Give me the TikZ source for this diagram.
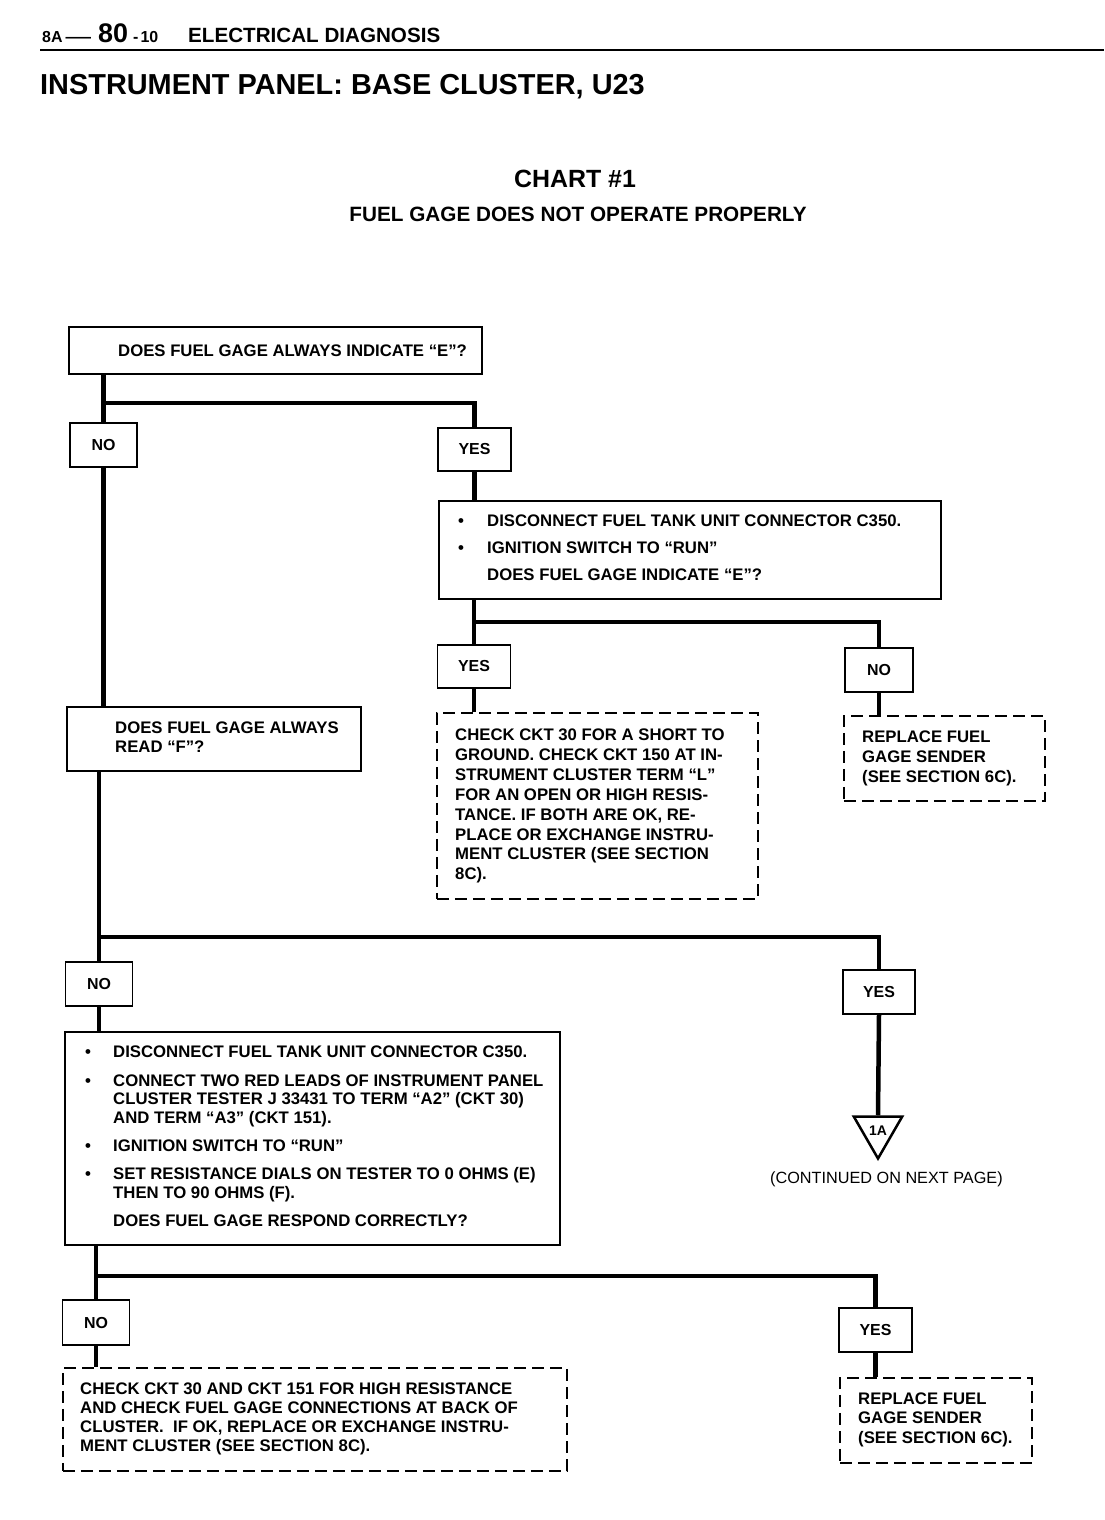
\documentclass[tikz,border=0pt]{standalone}
\usepackage{fontspec}
\usepackage{graphicx}
\setmainfont{Liberation Sans}
\usetikzlibrary{shapes.geometric}
\begin{document}
\begin{tikzpicture}[x=1bp,y=-1bp,
  box/.style={draw, line width=1.8bp, rectangle, inner sep=0pt, anchor=north west},
  dbox/.style={box, dash pattern=on 12bp off 6bp},
  yn/.style={draw, line width=1.8bp, rectangle, inner sep=0pt, font=\fontsize{16}{19}\selectfont\bfseries},
  conn/.style={line width=4.5bp},
  txt/.style={inner sep=0pt, anchor=west, align=left},
  body/.style={font=\fontsize{16.8}{#1}\selectfont\bfseries},
  body/.default=19,
]
\path[fill=white, use as bounding box] (0,0) rectangle (1104,1520);

% ---------- header ----------
\node[inner sep=0pt, anchor=base west, font=\fontsize{16}{16}\selectfont\bfseries] (h1) at (42,43) {8A\hspace{3bp}\scalebox{1.6}[1]{—}};
\node[inner sep=0pt, anchor=base west, font=\fontsize{27}{27}\selectfont\bfseries] (h2) at (98,43) {80};
\node[inner sep=0pt, anchor=base west, font=\fontsize{16}{16}\selectfont\bfseries] (h3) at (133,43) {-\kern2bp 10};
\node[inner sep=0pt, anchor=base west, font=\fontsize{20.7}{20.7}\selectfont\bfseries] (h4) at (188,43) {ELECTRICAL DIAGNOSIS};
\coordinate (r1) at (40,50);
\coordinate (r2) at (1104,50);
\draw[line width=2bp] (r1) -- (r2);
\node[inner sep=0pt, anchor=base west, font=\fontsize{29}{29}\selectfont\bfseries] (ttl) at (40,95) {INSTRUMENT PANEL: BASE CLUSTER, U23};
\node[inner sep=0pt, anchor=base, font=\fontsize{25}{25}\selectfont\bfseries] (chart) at (575,187) {CHART \#1};
\node[inner sep=0pt, anchor=base, font=\fontsize{20.8}{20.8}\selectfont\bfseries] (sub) at (578,221) {FUEL GAGE DOES NOT OPERATE PROPERLY};

% ---------- boxes ----------
\node[box, minimum width=413bp, minimum height=47bp] (q1) at (68,326) {};
\node[txt, body] (q1t) at (118,351) {DOES FUEL GAGE ALWAYS INDICATE ``E''?};

\node[yn, minimum width=67bp, minimum height=44bp] (n1) at (103.5,445) {NO};
\node[yn, minimum width=73bp, minimum height=43bp] (y1) at (474.5,449.5) {YES};

\node[box, minimum width=502bp, minimum height=98bp] (q2) at (438,500) {};
\node[txt, body=27] (q2t) at (458,548) {\makebox[29bp][l]{\textbullet}DISCONNECT FUEL TANK UNIT CONNECTOR C350.\\
\makebox[29bp][l]{\textbullet}IGNITION SWITCH TO ``RUN''\\
\hspace*{29bp}DOES FUEL GAGE INDICATE ``E''?};

\node[yn, minimum width=73bp, minimum height=43bp] (y2) at (474,666.5) {YES};
\node[yn, minimum width=68bp, minimum height=44bp] (n2) at (879,670) {NO};

\node[dbox, minimum width=321bp, minimum height=186bp] (dA) at (436,712) {};
\node[txt, body=20] (dAt) at (455,806) {CHECK CKT 30 FOR A SHORT TO\\
GROUND. CHECK CKT 150 AT IN-\\
STRUMENT CLUSTER TERM ``L''\\
FOR AN OPEN OR HIGH RESIS-\\
TANCE. IF BOTH ARE OK, RE-\\
PLACE OR EXCHANGE INSTRU-\\
MENT CLUSTER (SEE SECTION\\
8C).};

\node[dbox, minimum width=201bp, minimum height=85bp] (dB) at (843,715) {};
\node[txt, body=20] (dBt) at (862,758) {REPLACE FUEL\\
GAGE SENDER\\
(SEE SECTION 6C).};

\node[box, minimum width=294bp, minimum height=64bp] (q3) at (66,706) {};
\node[txt, body=19] (q3t) at (115,737.5) {DOES FUEL GAGE ALWAYS\\
READ ``F''?};

\node[yn, minimum width=67bp, minimum height=44bp] (n3) at (99,984) {NO};
\node[yn, minimum width=72bp, minimum height=44bp] (y3) at (879,992) {YES};

\node[draw, line width=2.5bp, regular polygon, regular polygon sides=3, shape border rotate=180,
      minimum size=56bp, inner sep=0pt, font=\fontsize{14}{14}\selectfont\bfseries] (t1) at (878,1130.5) {1A};
\node[inner sep=0pt, anchor=west, font=\fontsize{16.3}{19}\selectfont] (cont) at (770,1179) {(CONTINUED ON NEXT PAGE)};

\node[box, minimum width=495bp, minimum height=213bp] (q4) at (64,1031) {};
\node[txt, body=18.5] (q4t) at (85,1136.5) {\makebox[28bp][l]{\textbullet}DISCONNECT FUEL TANK UNIT CONNECTOR C350.\\[10bp]
\makebox[28bp][l]{\textbullet}CONNECT TWO RED LEADS OF INSTRUMENT PANEL\\
\hspace*{28bp}CLUSTER TESTER J 33431 TO TERM ``A2'' (CKT 30)\\
\hspace*{28bp}AND TERM ``A3'' (CKT 151).\\[10bp]
\makebox[28bp][l]{\textbullet}IGNITION SWITCH TO ``RUN''\\[10bp]
\makebox[28bp][l]{\textbullet}SET RESISTANCE DIALS ON TESTER TO 0 OHMS (E)\\
\hspace*{28bp}THEN TO 90 OHMS (F).\\[10bp]
\hspace*{28bp}DOES FUEL GAGE RESPOND CORRECTLY?};

\node[yn, minimum width=67bp, minimum height=45bp] (n4) at (96,1322.5) {NO};
\node[yn, minimum width=73bp, minimum height=44bp] (y4) at (875.5,1330) {YES};

\node[dbox, minimum width=504bp, minimum height=103bp] (dC) at (62,1367) {};
\node[txt, body=19] (dCt) at (80,1418.5) {CHECK CKT 30 AND CKT 151 FOR HIGH RESISTANCE\\
AND CHECK FUEL GAGE CONNECTIONS AT BACK OF\\
CLUSTER.\ \ IF OK, REPLACE OR EXCHANGE INSTRU-\\
MENT CLUSTER (SEE SECTION 8C).};

\node[dbox, minimum width=192bp, minimum height=85bp] (dD) at (839,1377) {};
\node[txt, body=19.5] (dDt) at (858,1419.5) {REPLACE FUEL\\
GAGE SENDER\\
(SEE SECTION 6C).};

% ---------- branch points ----------
\coordinate (b1) at (103.5,403);
\coordinate (b2) at (474,622);
\coordinate (b3) at (99,937);
\coordinate (b4) at (96,1276);

% ---------- connectors ----------
\draw[conn] (n1.north |- q1.south) -- (n1.north);
\draw[conn] (b1) -| (y1.north);
\draw[conn] (n1.south) -- (n1.south |- q3.north);
\draw[conn] (y1.south) -- (y1.south |- q2.north);
\draw[conn] (y2.north |- q2.south) -- (y2.north);
\draw[conn] (b2) -| (n2.north);
\draw[conn] (y2.south) -- (y2.south |- dA.north);
\draw[conn] (n2.south) -- (n2.south |- dB.north);
\draw[conn] (n3.north |- q3.south) -- (n3.north);
\draw[conn] (b3) -| (y3.north);
\draw[conn] (y3.south) -- (t1.north);
\draw[conn] (n3.south) -- (n3.south |- q4.north);
\draw[conn] (n4.north |- q4.south) -- (n4.north);
\draw[conn] (b4) -| (y4.north);
\draw[conn] (n4.south) -- (n4.south |- dC.north);
\draw[conn] (y4.south) -- (y4.south |- dD.north);
\end{tikzpicture}
\end{document}
